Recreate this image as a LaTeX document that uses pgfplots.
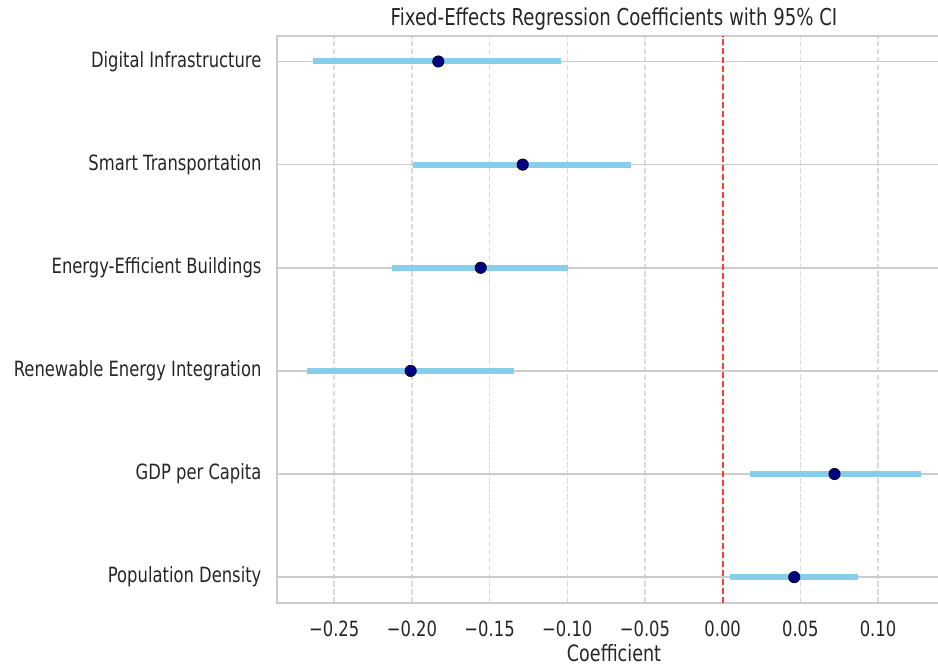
\documentclass[border=0pt]{standalone}
\usepackage{fontspec}
\setmainfont{DejaVu Sans}[FakeStretch=0.78]
\usepackage{pgfplots}
\usepackage{pgfplotstable}
\pgfplotsset{compat=1.18}

\definecolor{skyblue}{HTML}{87CEEB}
\definecolor{spine}{HTML}{CCCCCC}
\definecolor{gridx}{HTML}{DBDBDB}
\definecolor{txt}{HTML}{262626}

% coef, lower and upper bound of the 95% CI; y = row position
\pgfplotstableread{
y coef lo hi
0 0.0461 0.0047 0.0872
1 0.0720 0.0173 0.1275
2 -0.2008 -0.2673 -0.1343
3 -0.1557 -0.2128 -0.0995
4 -0.1287 -0.1995 -0.0590
5 -0.1830 -0.2638 -0.1040
}\coefs

\begin{document}
\begin{tikzpicture}
\begin{axis}[
  scale only axis,
  width=449.8pt, height=378.2pt,
  xmin=-0.287, xmax=0.1472,
  ymin=-0.25, ymax=5.25,
  axis line style={spine, line width=1.25pt},
  major tick length=0pt,
  xtick={-0.25,-0.20,-0.15,-0.10,-0.05,0,0.05,0.10},
  xticklabels={−0.25,−0.20,−0.15,−0.10,−0.05,0.00,0.05,0.10},
  ytick={0,1,2,3,4,5},
  yticklabels={Population Density, GDP per Capita, Renewable Energy Integration,
    Energy-Efficient Buildings, Smart Transportation, Digital Infrastructure},
  tick label style={font=\fontsize{14}{16}\selectfont, text=txt},
  xticklabel style={anchor=north, inner sep=0pt, yshift=-12pt},
  yticklabel style={anchor=east, inner sep=0pt, xshift=-10pt},
  xmajorgrids, ymajorgrids,
  x grid style={gridx, line width=1pt, dash pattern=on 3.7pt off 1.6pt},
  y grid style={spine, line width=1pt},
  xlabel={Coefficient},
  xlabel style={at={(axis description cs:0.5,0)}, anchor=base, yshift=-39pt,
    font=\fontsize{15}{17}\selectfont, text=txt},
  title={Fixed-Effects Regression Coefficients with 95\% CI},
  title style={at={(axis description cs:0.5,1)}, anchor=base, yshift=0.5pt,
    font=\fontsize{15.5}{18}\selectfont, text=txt},
  clip=false,
]
\addplot[red, opacity=0.75, line width=1.5pt, dash pattern=on 4pt off 2pt]
  coordinates {(0,-0.25) (0,5.25)};
\addplot[only marks, mark=none,
  error bars/.cd, x dir=both, x explicit,
  error mark=none,
  error bar style={draw=skyblue, line width=4pt}]
  table[x=coef, y=y,
    x error plus expr=\thisrow{hi}-\thisrow{coef},
    x error minus expr=\thisrow{coef}-\thisrow{lo}] {\coefs};
\addplot[only marks, mark=*, mark size=3.8pt,
  mark options={draw=none, fill={rgb,255:red,0;green,0;blue,128}}]
  table[x=coef, y=y] {\coefs};
\end{axis}
\pgfresetboundingbox
\path[use as bounding box]
  ([shift={(-184.5pt,-42pt)}]current axis.south west) rectangle
  ([shift={(440.9pt,402pt)}]current axis.south west);
\end{tikzpicture}
\end{document}
